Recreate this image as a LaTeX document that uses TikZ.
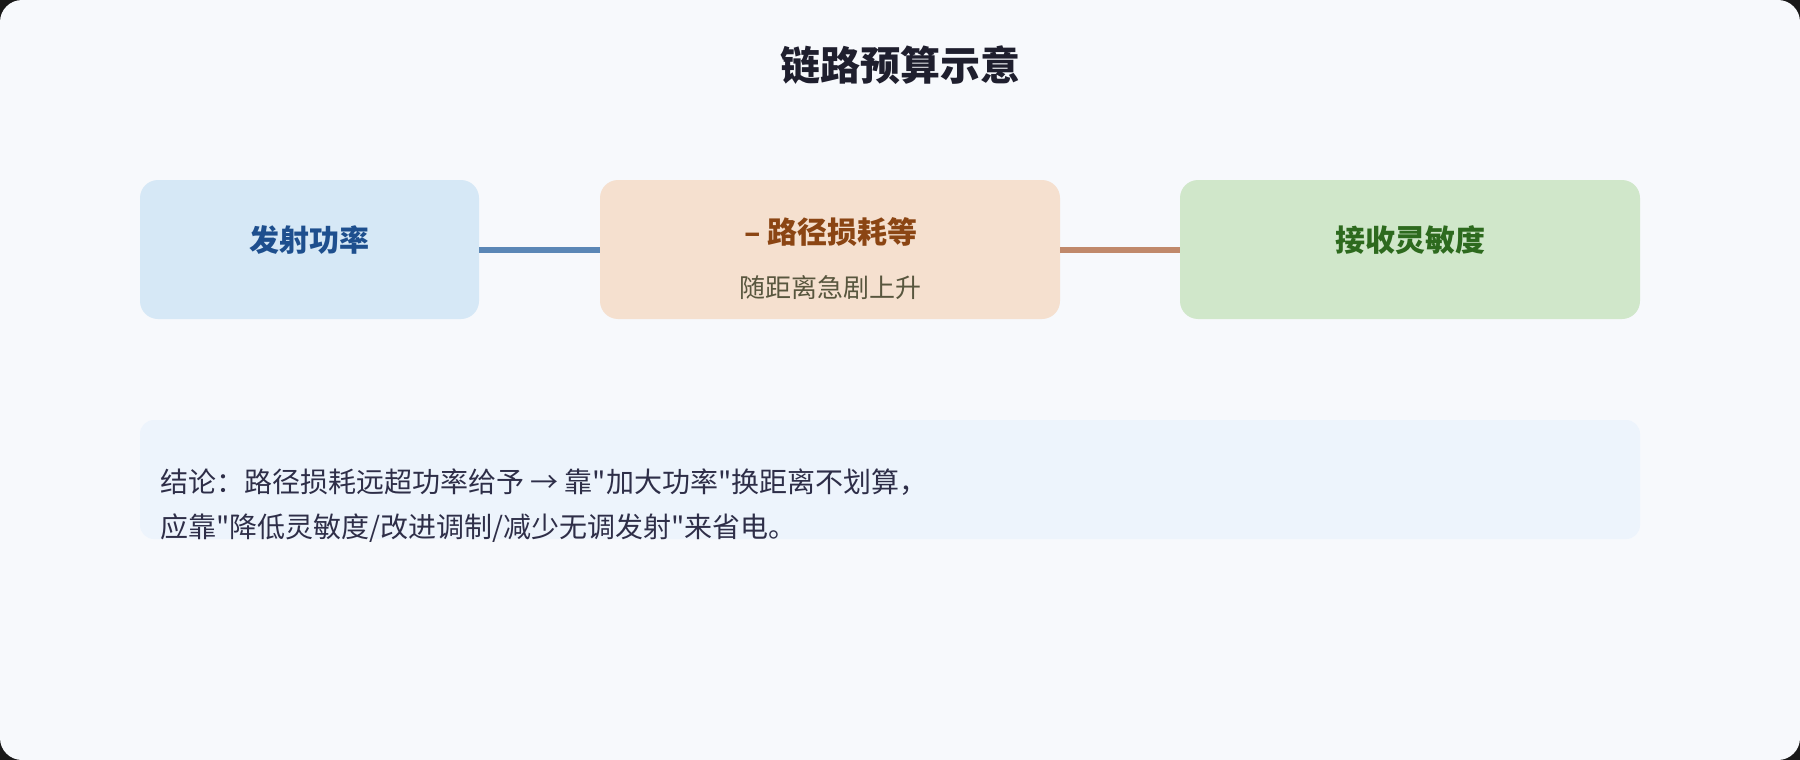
\documentclass[tikz,border=0pt]{standalone}
\usepackage{fontspec}
\setmainfont{Noto Sans CJK SC}[Ligatures=TeXOff]
\definecolor{pagebg}{HTML}{F7F9FC}
\definecolor{txfill}{HTML}{D6E8F6}
\definecolor{txtext}{HTML}{1E4F8E}
\definecolor{txline}{HTML}{5B87B6}
\definecolor{lossfill}{HTML}{F5E0CF}
\definecolor{losstext}{HTML}{8B4513}
\definecolor{losssub}{HTML}{58563E}
\definecolor{lossline}{HTML}{C0896B}
\definecolor{rxfill}{HTML}{D0E7CA}
\definecolor{rxtext}{HTML}{2D6A1E}
\definecolor{notefill}{HTML}{EDF4FC}
\definecolor{notetext}{HTML}{2E2E48}
\definecolor{titletext}{HTML}{1F1F2E}
\newlength{\boxrad}
\setlength{\boxrad}{18pt}

\begin{document}
\begin{tikzpicture}[x=1pt,y=-1pt,
    stage/.style={rounded corners=\boxrad,inner sep=0pt,minimum height=139pt},
    stagelbl/.style={inner sep=0pt,font=\fontsize{30}{36}\selectfont\bfseries},
    link/.style={line width=6pt}]
            \fill[black!90] (0,0) rectangle (1800,760);
            \fill[pagebg,rounded corners=22pt] (0,0) rectangle (1800,760);
            \node[inner sep=0pt,text=titletext,font=\fontsize{40}{48}\selectfont\bfseries] (title) at (900,65) {链路预算示意};
            \node[stage,fill=txfill,minimum width=339pt] (tx) at (309.5,249.5) {};
            \node[stage,fill=lossfill,minimum width=460pt] (loss) at (830,249.5) {};
            \node[stage,fill=rxfill,minimum width=460pt] (rx) at (1410,249.5) {};
            \draw[link,txline] (tx.east) -- (loss.west);
            \draw[link,lossline] (loss.east) -- (rx.west);
            \node[stagelbl,text=txtext] (txlbl) at (309.5,240) {发射功率};
            \node[stagelbl,text=losstext] (losslbl) at (831,232) {– 路径损耗等};
            \node[inner sep=0pt,text=losssub,font=\fontsize{26}{30}\selectfont] (losssublbl) at (830,288) {随距离急剧上升};
            \node[stagelbl,text=rxtext] (rxlbl) at (1410,240) {接收灵敏度};
            \node[rounded corners=14pt,fill=notefill,inner sep=0pt,minimum width=1500pt,minimum height=119pt] (note) at (890,479.5) {};
            \node[anchor=west,inner sep=0pt,align=left,text=notetext,font=\fontsize{28}{45}\selectfont] (notetxt) at (160,505.5) {结论：路径损耗远超功率给予 → 靠"加大功率"换距离不划算，\\应靠"降低灵敏度/改进调制/减少无调发射"来省电。};
\end{tikzpicture}
\end{document}
